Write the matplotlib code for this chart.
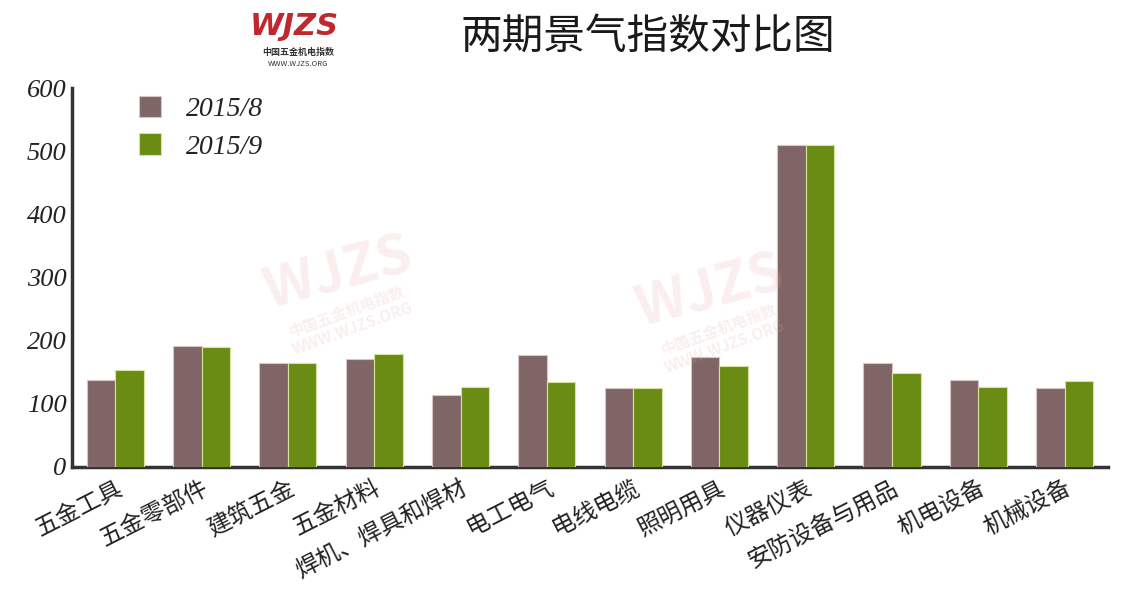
import numpy as np
import matplotlib.pyplot as plt

plt.rcParams['font.family'] = ['Noto Sans CJK SC', 'DejaVu Sans']

# data
categories = ['五金工具', '五金零部件', '建筑五金', '五金材料', '焊机、焊具和焊材', '电工电气',
              '电线电缆', '照明用具', '仪器仪表', '安防设备与用品', '机电设备', '机械设备']
aug_2015 = [138, 191, 165, 171, 114, 177, 125, 174, 510, 165, 137, 125]
sep_2015 = [153, 190, 165, 179, 127, 134, 125, 160, 510, 149, 126, 136]
series_names = ['2015/8', '2015/9']
y_ticks = [0, 100, 200, 300, 400, 500, 600]

brown = '#806566'
green = '#6a8c14'

fig = plt.figure(figsize=(11.28, 5.93), dpi=100)
ax = fig.add_axes([0.064, 0.2125, 0.918, 0.639])

x = np.arange(len(categories))
w = 0.331
ax.bar(x - w / 2, aug_2015, width=w, color=brown, edgecolor='#d8c6c6', linewidth=0.8,
       label=series_names[0], zorder=3)
ax.bar(x + w / 2, sep_2015, width=w, color=green, edgecolor='#d6e39a', linewidth=0.8,
       label=series_names[1], zorder=3)

ax.set_xlim(-0.5, len(categories) - 0.5)
ax.set_ylim(0, 600)
ax.set_yticks(y_ticks)
ax.set_yticklabels([str(v) for v in y_ticks], family='Liberation Serif', style='italic',
                   fontsize=19, color='#222222')
ax.set_xticks(x)
ax.set_xticklabels(categories, rotation=27, ha='right', va='top', rotation_mode='anchor',
                   fontsize=17, color='#222222')
ax.tick_params(axis='both', length=0)
ax.tick_params(axis='y', pad=4)
ax.tick_params(axis='x', pad=7)

for s in ['top', 'right']:
    ax.spines[s].set_visible(False)
for s in ['left', 'bottom']:
    ax.spines[s].set_color('#333333')
    ax.spines[s].set_linewidth(2.5)

leg = ax.legend(loc='upper left', bbox_to_anchor=(0.04, 1.045), frameon=False,
                prop={'family': 'Liberation Serif', 'style': 'italic', 'size': 20},
                handlelength=0.8, handleheight=0.8, handletextpad=0.9, labelspacing=0.4)
for t in leg.get_texts():
    t.set_color('#222222')

# title
fig.text(0.574, 0.937, '两期景气指数对比图', ha='center', va='center', fontsize=30,
         color='#1a1a1a')

# logo
fig.text(0.261, 0.955, 'WJZS', ha='center', va='center', fontsize=22, fontweight='bold',
         style='italic', color='#c0282d', family='DejaVu Sans')
fig.text(0.264, 0.912, '中国五金机电指数', ha='center', va='center', fontsize=6.5,
         fontweight='bold', color='#333333')
fig.text(0.264, 0.892, 'WWW.WJZS.ORG', ha='center', va='center', fontsize=5.5,
         color='#333333')

# watermarks
for wx, wy in [(0.30, 0.50), (0.63, 0.47)]:
    fig.text(wx, wy + 0.04, 'WJZS', ha='center', va='center', fontsize=40, fontweight='bold',
             style='italic', color='#e8a0a0', alpha=0.18, rotation=15, zorder=0)
    fig.text(wx + 0.01, wy - 0.04, '中国五金机电指数\nWWW.WJZS.ORG', ha='center', va='center',
             fontsize=11, fontweight='bold', color='#e8a0a0', alpha=0.18, rotation=20,
             zorder=0, linespacing=1.2)

fig.savefig('out.png', dpi=100)
